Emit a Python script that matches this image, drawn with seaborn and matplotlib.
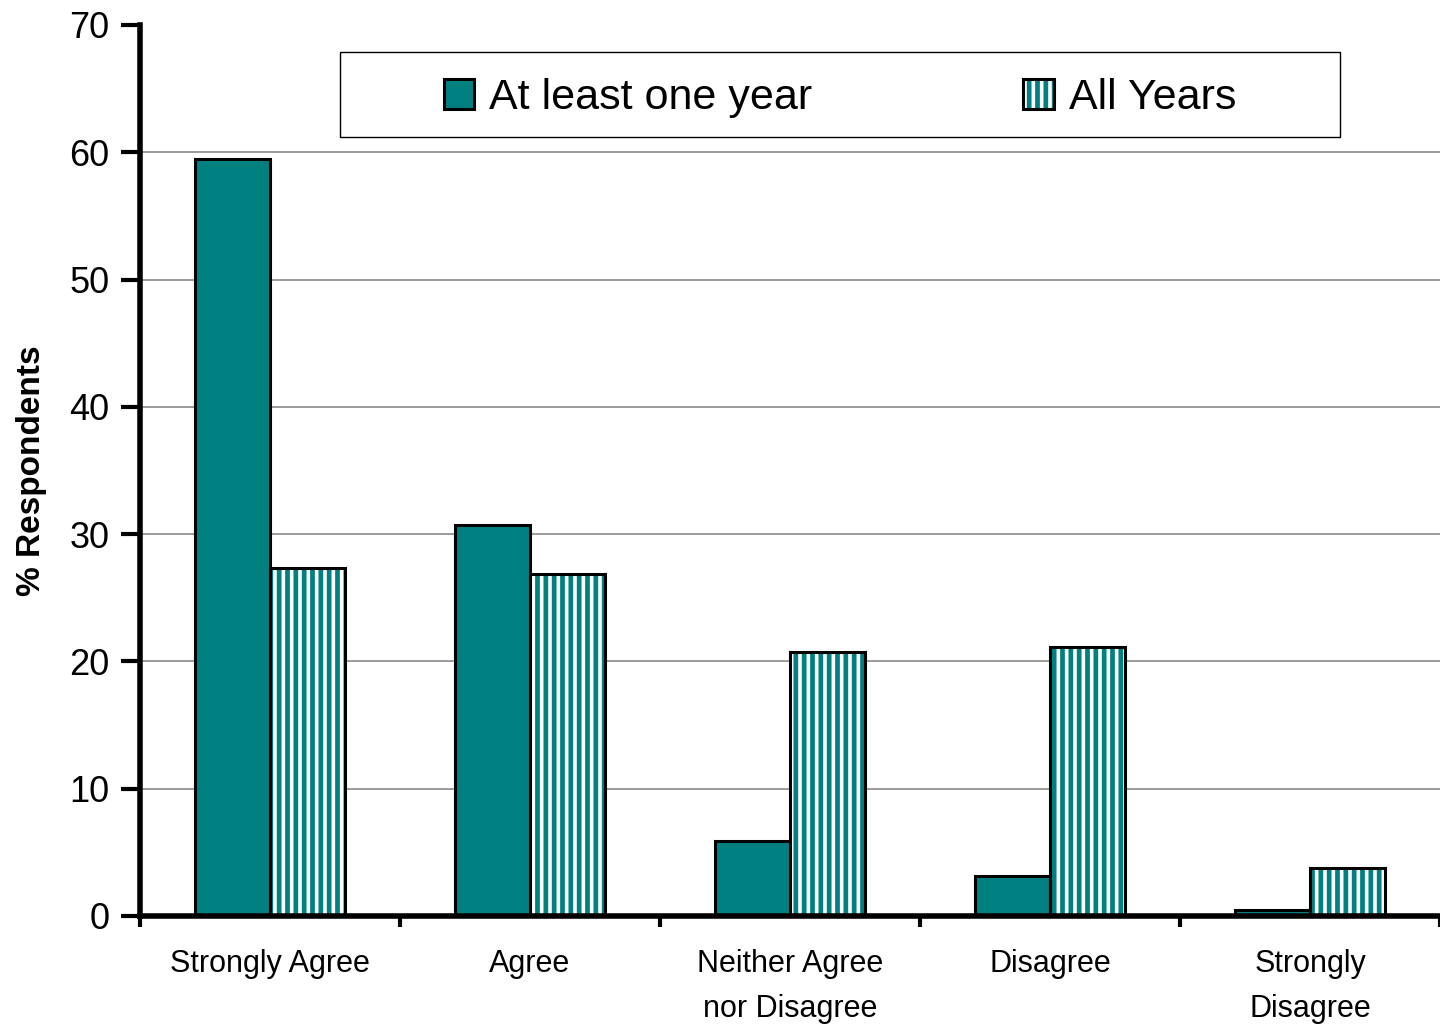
import matplotlib
matplotlib.use("Agg")
import matplotlib.pyplot as plt
import seaborn as sns
import pandas as pd
from matplotlib.patches import Rectangle, Patch
from matplotlib.legend_handler import HandlerTuple

categories = ["Strongly Agree", "Agree", "Neither Agree\nnor Disagree", "Disagree", "Strongly\nDisagree"]
series_names = ["At least one year", "All Years"]
at_least_one_year = [59.5, 30.7, 5.9, 3.1, 0.5]
all_years = [27.3, 26.9, 20.7, 21.1, 3.8]
y_ticks = [0, 10, 20, 30, 40, 50, 60, 70]

TEAL = "#008080"

df = pd.DataFrame({
    "category": categories * 2,
    "series": [series_names[0]] * len(categories) + [series_names[1]] * len(categories),
    "value": at_least_one_year + all_years,
})

sns.set_style("white")
plt.rcParams["font.family"] = ["Liberation Sans", "DejaVu Sans"]
plt.rcParams["hatch.linewidth"] = 3.4
plt.rcParams["text.color"] = "black"
plt.rcParams["axes.labelcolor"] = "black"
plt.rcParams["xtick.color"] = "black"
plt.rcParams["ytick.color"] = "black"

fig = plt.figure(figsize=(14.4, 10.28), dpi=100)
ax = fig.add_axes([0.0972, 0.109, 0.9028, 0.8667])

sns.barplot(data=df, x="category", y="value", hue="series", order=categories,
            hue_order=series_names, palette=[TEAL, "white"], saturation=1, width=0.58,
            edgecolor="black", linewidth=2.2, errorbar=None, legend=False, ax=ax)

n = len(categories)
bars = [p for p in ax.patches if isinstance(p, Rectangle)]
hatched = bars[n:2 * n]
for p in hatched:
    x, y = p.get_xy()
    w, h = p.get_width(), p.get_height()
    p.set_facecolor("white")
    p.set_edgecolor(TEAL)
    p.set_linewidth(0)
    p.set_hatch("||")
    ax.add_patch(Rectangle((x, y), w, h, fill=False, edgecolor="black", linewidth=2.2, zorder=p.get_zorder() + 0.1))

ax.set_xlim(-0.5, n - 0.5)
ax.set_ylim(0, 70)
ax.set_yticks(y_ticks)
ax.set_yticklabels([str(t) for t in y_ticks], fontsize=26)
for t in y_ticks[1:-1]:
    ax.axhline(t, color="#808080", linewidth=1.1, zorder=0)

# category boundaries as major ticks, labels at centers as minor ticks
ax.set_xticks([i - 0.5 for i in range(n + 1)])
ax.set_xticklabels([""] * (n + 1))
ax.set_xticks(list(range(n)), minor=True)
ax.set_xticklabels(categories, minor=True, fontsize=22, linespacing=1.65)
ax.tick_params(axis="x", which="minor", bottom=True, length=0, pad=24)
ax.tick_params(axis="x", which="major", bottom=True, length=8, width=3, direction="out", color="black")
ax.tick_params(axis="y", left=True, length=14, width=3, direction="out", color="black", pad=8)

for s in ["top", "right"]:
    ax.spines[s].set_visible(False)
ax.spines["left"].set_linewidth(4)
ax.spines["bottom"].set_linewidth(4)
ax.spines["left"].set_color("black")
ax.spines["bottom"].set_color("black")

ax.set_xlabel("")
ax.set_ylabel("% Respondents", fontsize=24, fontweight="bold", labelpad=16)

# legend frame
ax.add_patch(Rectangle((0.1538, 0.8743), 0.769, 0.0954, transform=ax.transAxes,
                       facecolor="white", edgecolor="black", linewidth=1, zorder=4, clip_on=False))

h1 = Patch(facecolor=TEAL, edgecolor="black", linewidth=2.2)
h2a = Patch(facecolor="white", edgecolor=TEAL, hatch="||", linewidth=0)
h2b = Patch(facecolor="none", edgecolor="black", linewidth=2.2)
leg = ax.legend([h1, (h2a, h2b)], series_names, loc="center", bbox_to_anchor=(0.5385, 0.918),
                ncol=2, fontsize=31, frameon=False, handlelength=0.7, handleheight=0.7,
                handletextpad=0.35, columnspacing=4.9,
                handler_map={tuple: HandlerTuple(ndivide=1, pad=0)})
leg.set_zorder(5)

fig.savefig("out.png", dpi=100, facecolor="white")
